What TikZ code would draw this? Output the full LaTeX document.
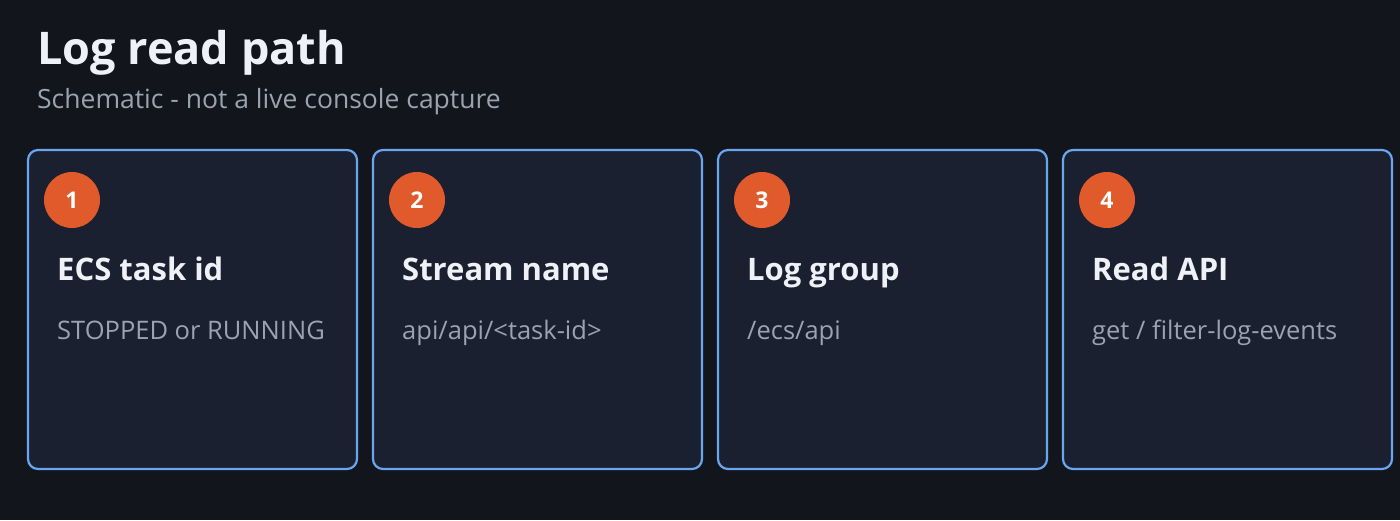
\documentclass[tikz,border=0pt]{standalone}
\usepackage{fontspec}
\setmainfont{Open Sans}
\definecolor{bg}{HTML}{12151C}
\definecolor{card}{HTML}{1B2030}
\definecolor{edge}{HTML}{6AA5F0}
\definecolor{badge}{HTML}{E05A2B}
\definecolor{ttl}{HTML}{EEF1F6}
\definecolor{sub}{HTML}{9AA3B0}
\begin{document}
\begin{tikzpicture}[x=1pt,y=-1pt,
  card/.style={draw=edge,line width=2.2pt,fill=card,rounded corners=10pt},
  num/.style={circle,fill=badge,minimum size=56pt,inner sep=0pt,text=white,font=\fontsize{23}{26}\selectfont\bfseries},
  head/.style={anchor=base west,text=ttl,font=\fontsize{31}{36}\selectfont\bfseries,inner sep=0pt},
  desc/.style={anchor=base west,text=sub,font=\fontsize{25.5}{30}\selectfont,inner sep=0pt}]
\fill[bg] (0,0) rectangle (1400,520);
\useasboundingbox (0,0) rectangle (1400,520);
\node[anchor=base west,inner sep=0pt,text=ttl,font=\fontsize{45}{52}\selectfont\bfseries] (title) at (37,64) {Log read path};
\node[anchor=base west,inner sep=0pt,text=sub,font=\fontsize{26.5}{30}\selectfont] (subtitle) at (37,108) {Schematic - not a live console capture};
\foreach \i/\x/\h/\d in {1/28/{ECS task id}/{STOPPED or RUNNING},2/373/{Stream name}/{api/api/<task-id>},3/718/{Log group}/{/ecs/api},4/1063/{Read API}/{get / filter-log-events}}{
  \draw[card] (\x,150) rectangle ++(329,319);
  \node[num] (n\i) at (\x+44,200) {\i};
  \node[head] (h\i) at (\x+29,280) {\h};
  \node[desc] (d\i) at (\x+29,339) {\d};
}
\end{tikzpicture}
\end{document}
